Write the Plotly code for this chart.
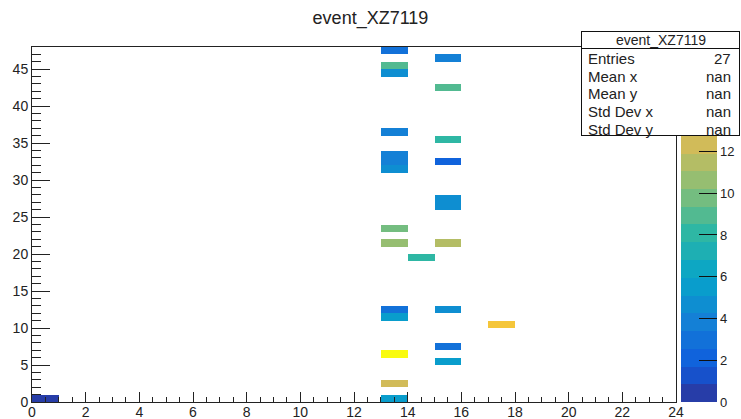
import numpy as np
import plotly.graph_objects as go

# ---------------- data ----------------
title_text = "event_XZ7119"
cell_x = [0, 13, 13, 13, 13, 13, 13, 13, 13, 13, 13, 13, 13, 13, 13,
          14, 15, 15, 15, 15, 15, 15, 15, 15, 15, 15, 17]
cell_y = [0, 0, 2, 6, 11, 12, 21, 23, 31, 32, 33, 36, 44, 45, 47,
          19, 5, 7, 12, 21, 26, 27, 32, 35, 42, 46, 10]
cell_val = [0.5, 5.5, 12.5, 17.0, 5.2, 3.2, 10.8, 9.5, 4.6, 4.0, 4.2, 3.5, 4.5, 8.8, 3.0,
            8.0, 5.3, 2.6, 4.6, 11.5, 4.6, 4.4, 2.5, 8.0, 8.6, 3.5, 14.0]
n_xbins, n_ybins = 24, 48
z_min, z_max = 0.0, 17.0
n_contours = 20
x_ticks = list(range(0, 25, 2))
y_ticks = list(range(0, 46, 5))
z_ticks = list(range(0, 13, 2))
stats_labels = ["Entries", "Mean x", "Mean y", "Std Dev x", "Std Dev y"]
stats_values = ["27", "nan", "nan", "nan", "nan"]

# ---------------- ROOT kBird palette ----------------
stops = [0.0, 0.125, 0.25, 0.375, 0.5, 0.625, 0.75, 0.875, 1.0]
R = [0.2082, 0.0592, 0.0780, 0.0232, 0.1802, 0.5301, 0.8186, 0.9956, 0.9764]
G = [0.1664, 0.3599, 0.5041, 0.6419, 0.7178, 0.7492, 0.7328, 0.7862, 0.9832]
B = [0.5293, 0.8684, 0.8385, 0.7914, 0.6425, 0.4662, 0.3499, 0.1968, 0.0539]


def bird(f):
    return "rgb(%d,%d,%d)" % (round(255 * np.interp(f, stops, R)),
                              round(255 * np.interp(f, stops, G)),
                              round(255 * np.interp(f, stops, B)))


colorscale = []
for i in range(n_contours):
    idx = min(int((i + 0.99) * 255 / n_contours), 254)
    c = bird(idx / 254)
    colorscale.append([i / n_contours, c])
    colorscale.append([(i + 1) / n_contours, c])

z = [[None] * n_xbins for _ in range(n_ybins)]
for xi, yi, v in zip(cell_x, cell_y, cell_val):
    z[yi][xi] = v

# ---------------- geometry ----------------
W, H = 741, 419
ML, MR, MT, MB = 32, 65, 47, 17
PW, PH = W - ML - MR, H - MT - MB


def px2x(px):
    return (px - ML) / PW


def py2y(py):
    return (H - MB - py) / PH


FONT = "Liberation Sans, Arial, Helvetica, sans-serif"
TXT = "#222222"

fig = go.Figure()
fig.add_trace(go.Heatmap(
    z=z, x0=0.5, dx=1, y0=0.5, dy=1,
    zmin=z_min, zmax=z_max, colorscale=colorscale,
    hoverinfo="skip", xgap=0, ygap=0,
    colorbar=dict(
        x=px2x(681), xanchor="left", xpad=0,
        y=0, yanchor="bottom", ypad=0, len=1, lenmode="fraction",
        thickness=36, outlinewidth=0,
        tickmode="array", tickvals=z_ticks,
        ticks="inside", ticklen=18, tickcolor="#111", tickwidth=1,
        tickfont=dict(family=FONT, size=13, color=TXT),
    ),
))

fig.update_xaxes(
    range=[0, n_xbins], showgrid=False, zeroline=False,
    showline=True, linecolor="#222", linewidth=1, mirror=True,
    tickmode="array", tickvals=x_ticks, ticks="inside", ticklen=10,
    tickcolor="#222", tickfont=dict(family=FONT, size=14, color=TXT),
    ticklabelstandoff=-3,
    minor=dict(dtick=0.5, ticks="inside", ticklen=5, tickcolor="#222", showgrid=False),
)
fig.update_yaxes(
    range=[0, n_ybins], showgrid=False, zeroline=False,
    showline=True, linecolor="#222", linewidth=1, mirror=True,
    tickmode="array", tickvals=y_ticks, ticks="inside", ticklen=18,
    tickcolor="#222", tickfont=dict(family=FONT, size=14, color=TXT),
    minor=dict(dtick=1, ticks="inside", ticklen=9, tickcolor="#222", showgrid=False),
)

# ---------------- stats box ----------------
bx0, bx1, by0, by1, bsep = 581, 740, 31, 136, 48
ann = []
ann.append(dict(xref="paper", yref="paper", x=px2x((bx0 + bx1) / 2), y=py2y((by0 + by1) / 2),
                xanchor="center", yanchor="middle", text=" ", showarrow=False,
                width=bx1 - bx0 - 2, height=by1 - by0 - 2, borderpad=0,
                bgcolor="white", bordercolor="#111", borderwidth=1))
ann.append(dict(xref="paper", yref="paper", x=px2x((bx0 + bx1) / 2), y=py2y((by0 + bsep) / 2),
                xanchor="center", yanchor="middle", text=" ", showarrow=False,
                width=bx1 - bx0 - 2, height=bsep - by0 - 1, borderpad=0,
                bgcolor="rgba(0,0,0,0)", bordercolor="#111", borderwidth=1))
ann.append(dict(xref="paper", yref="paper", x=px2x((bx0 + bx1) / 2), y=py2y(39.5),
                xanchor="center", yanchor="middle", text=title_text, showarrow=False,
                font=dict(family=FONT, size=14, color=TXT)))
row_y = [58.5, 76, 93.5, 112, 129]
for lab, val, ry in zip(stats_labels, stats_values, row_y):
    ann.append(dict(xref="paper", yref="paper", x=px2x(586), y=py2y(ry),
                    xanchor="left", yanchor="middle", text=lab, showarrow=False,
                    font=dict(family=FONT, size=15, color=TXT)))
    ann.append(dict(xref="paper", yref="paper", x=px2x(733), y=py2y(ry),
                    xanchor="right", yanchor="middle", text=val, showarrow=False,
                    font=dict(family=FONT, size=15, color=TXT)))

fig.update_layout(
    width=W, height=H, margin=dict(l=ML, r=MR, t=MT, b=MB, autoexpand=False),
    paper_bgcolor="white", plot_bgcolor="white",
    title=dict(text=title_text, x=0.5, xref="container", xanchor="center",
               y=1 - 18 / H, yref="container", yanchor="middle",
               font=dict(family=FONT, size=18, color=TXT)),
    annotations=ann, showlegend=False,
)

fig.write_html("out.html")
